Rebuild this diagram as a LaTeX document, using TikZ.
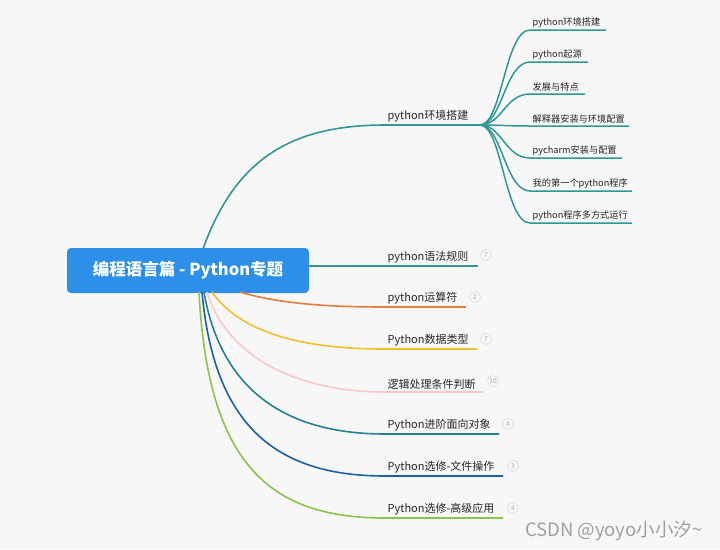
\documentclass[tikz,border=0pt]{standalone}
\usepackage{fontspec}
\setmainfont{Noto Sans CJK SC}
\usepackage{tikz}
\usetikzlibrary{positioning, calc}

\definecolor{bgray}{RGB}{247,247,247}
\definecolor{rootblue}{RGB}{45,143,231}
\definecolor{tealA}{RGB}{47,152,148}
\definecolor{orangeA}{RGB}{228,124,58}
\definecolor{yellowA}{RGB}{241,190,46}
\definecolor{pinkA}{RGB}{248,200,200}
\definecolor{tealB}{RGB}{36,128,148}
\definecolor{blueA}{RGB}{26,96,168}
\definecolor{greenA}{RGB}{140,195,75}

\begin{document}
\begin{tikzpicture}[
  x=1pt, y=-1pt,
  rootbox/.style={fill=rootblue, rounded corners=4pt, minimum width=242pt,
                  minimum height=45pt, text=white,
                  font=\fontsize{16.5}{18}\selectfont\bfseries},
  lvl1/.style={anchor=south west, inner sep=2.5pt, text=black!85,
               font=\fontsize{11}{12}\selectfont},
  lvl2/.style={anchor=south west, inner sep=2.5pt, text=black!85,
               font=\fontsize{9.2}{10}\selectfont},
  badge/.style={circle, draw=gray!35, inner sep=0pt, minimum size=11pt,
                text=gray!70, font=\fontsize{6.5}{7}\selectfont},
  br/.style={line width=1.6pt},
  twig/.style={line width=1.5pt, tealA},
]
\useasboundingbox[fill=bgray] (0,0) rectangle (720,549);

\node[rootbox] (root) at (188,270.5) {编程语言篇 - Python专题};

% first level
\node[lvl1] (env)    at (385,125) {python环境搭建};
\node[lvl1] (syntax) at (385,266) {python语法规则};
\node[lvl1] (ops)    at (385,307) {python运算符};
\node[lvl1] (types)  at (385,349) {Python数据类型};
\node[lvl1] (logic)  at (385,392) {逻辑处理条件判断};
\node[lvl1] (oop)    at (385,434) {Python进阶面向对象};
\node[lvl1] (file)   at (385,476) {Python选修-文件操作};
\node[lvl1] (adv)    at (385,518) {Python选修-高级应用};

\coordinate (env-end)    at (480,125);
\coordinate (syntax-end) at (478,266);
\coordinate (ops-end)    at (466,307);
\coordinate (types-end)  at (477,349);
\coordinate (logic-end)  at (483,392);
\coordinate (oop-end)    at (499,434);
\coordinate (file-end)   at (503,476);
\coordinate (adv-end)    at (503,518);

\draw[br, tealA] (203,249) .. controls (235,160) and (290,125) .. (env.south west) -- (env-end);
\draw[br, tealA] (root.east |- syntax.south west) -- (syntax-end);
\draw[br, orangeA] (240,292) .. controls (280,304) and (330,307) .. (ops.south west) -- (ops-end);
\draw[br, yellowA] (212,292) .. controls (240,332) and (300,349) .. (types.south west) -- (types-end);
\draw[br, pinkA] (207,292) .. controls (225,352) and (290,392) .. (logic.south west) -- (logic-end);
\draw[br, tealB] (204,292) .. controls (220,385) and (280,434) .. (oop.south west) -- (oop-end);
\draw[br, blueA] (202,292) .. controls (214,425) and (275,476) .. (file.south west) -- (file-end);
\draw[br, greenA] (199,292) .. controls (208,465) and (270,518) .. (adv.south west) -- (adv-end);

\node[badge] (syntax-n) at (486,255) {7};
\node[badge] (ops-n)    at (475,297) {2};
\node[badge] (types-n)  at (486,339) {7};
\node[badge] (logic-n)  at (493,381) {10};
\node[badge] (oop-n)    at (508,424) {4};
\node[badge] (file-n)   at (513,466) {3};
\node[badge] (adv-n)    at (513,508) {4};

% second level under python环境搭建
\node[lvl2] (env1) at (530,30)  {python环境搭建};
\node[lvl2] (env2) at (530,62)  {python起源};
\node[lvl2] (env3) at (530,94)  {发展与特点};
\node[lvl2] (env4) at (530,126) {解释器安装与环境配置};
\node[lvl2] (env5) at (530,158) {pycharm安装与配置};
\node[lvl2] (env6) at (530,191) {我的第一个python程序};
\node[lvl2] (env7) at (530,223) {python程序多方式运行};

\foreach \i/\xe in {1/606, 2/588, 3/585, 4/629, 5/622, 6/632, 7/632} {
  \draw[twig] (env-end) .. controls (502,125) and (505,0 |- env\i.south west)
    .. (env\i.south west) -- (\xe, 0 |- env\i.south west);
}

\node[anchor=base east, text=gray!75, font=\fontsize{18.5}{20}\selectfont]
  (mark) at (706,536) {CSDN @yoyo小小汐\textasciitilde};

\end{tikzpicture}
\end{document}
